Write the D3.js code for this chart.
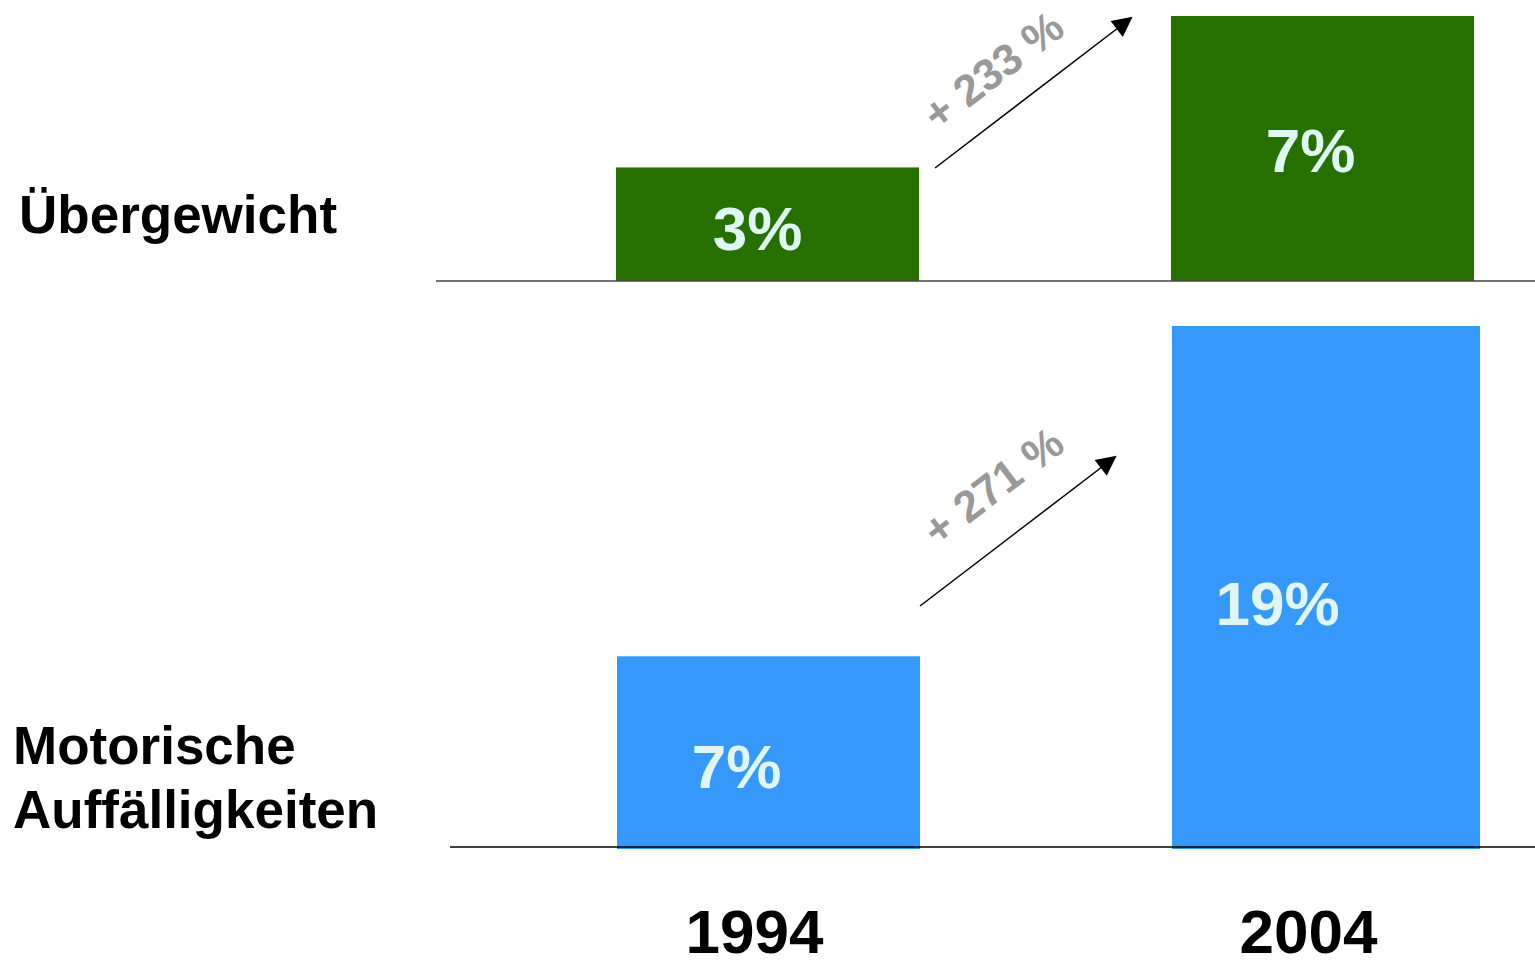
<!DOCTYPE html>
<html><head><meta charset="utf-8">
<script src="https://cdn.jsdelivr.net/npm/d3@7"></script>
<style>html,body{margin:0;padding:0;background:#fff;overflow:hidden}</style>
</head><body>
<svg id="chart" width="1535" height="960"></svg>
<script>
// ---- data ----
const years = ["1994", "2004"];
const categories = ["Übergewicht", "Motorische Auffälligkeiten"];
const overweight = [3, 7];
const motor = [7, 19];
const changeLabels = ["+ 233 %", "+ 271 %"];

// ---- layout ----
const svg = d3.select("#chart");
const font = "Liberation Sans, Arial, Helvetica, sans-serif";

const panels = [
  {values: overweight, color: "#267000", base: 281, top: 16, lineX0: 436, lineColor: "#444",
   barW: [303, 303], barDx: [0, 0], labelDx: [-10, -12], labelDy: [4, 2], yMaxVal: 7,
   arrow: [[935, 168], [1131, 18]], arrowLabel: [993, 70]},
  {values: motor, color: "#3798fb", base: 849, top: 326, lineX0: 450, lineColor: "#000",
   barW: [303, 308], barDx: [1, 3.5], labelDx: [-31, -45], labelDy: [14, 16], yMaxVal: 19,
   arrow: [[920, 606], [1115, 457]], arrowLabel: [993, 486]}
];

const x = d3.scalePoint().domain(years).range([767.5, 1322.5]);

svg.append("defs").append("marker")
  .attr("id", "ah").attr("viewBox", "0 0 10 10").attr("refX", 9).attr("refY", 5)
  .attr("markerWidth", 24).attr("markerHeight", 20).attr("markerUnits", "userSpaceOnUse")
  .attr("orient", "auto")
  .append("path").attr("d", "M0,0 L10,5 L0,10 Z").attr("fill", "#000");

panels.forEach((p, pi) => {
  const y = d3.scaleLinear().domain([0, p.yMaxVal]).range([p.base, p.top]);
  const g = svg.append("g");
  g.selectAll("rect").data(p.values).join("rect")
    .attr("x", (d, i) => x(years[i]) + p.barDx[i] - p.barW[i] / 2)
    .attr("width", (d, i) => p.barW[i])
    .attr("y", d => y(d))
    .attr("height", d => y(0) - y(d))
    .attr("fill", p.color);
  g.selectAll("text.val").data(p.values).join("text").attr("class", "val")
    .attr("x", (d, i) => x(years[i]) + p.labelDx[i])
    .attr("y", (d, i) => (y(d) + y(0)) / 2 + p.labelDy[i])
    .attr("text-anchor", "middle").attr("dominant-baseline", "central")
    .attr("font-family", font).attr("font-weight", "bold").attr("font-size", 62)
    .attr("fill", "#e0f6f2")
    .text(d => d + "%");
  // baseline
  const by = pi === 0 ? p.base : p.base - 2;
  g.append("line").attr("x1", p.lineX0).attr("x2", 1535)
    .attr("y1", by).attr("y2", by)
    .attr("stroke", p.lineColor).attr("stroke-width", 1.5);
  // arrow
  g.append("line")
    .attr("x1", p.arrow[0][0]).attr("y1", p.arrow[0][1])
    .attr("x2", p.arrow[1][0]).attr("y2", p.arrow[1][1])
    .attr("stroke", "#000").attr("stroke-width", 1.5).attr("marker-end", "url(#ah)");
  const ang = Math.atan2(p.arrow[1][1] - p.arrow[0][1], p.arrow[1][0] - p.arrow[0][0]) * 180 / Math.PI;
  g.append("text")
    .attr("transform", `translate(${p.arrowLabel[0]},${p.arrowLabel[1]}) rotate(${ang})`)
    .attr("text-anchor", "middle").attr("dominant-baseline", "central")
    .attr("font-family", font).attr("font-weight", "bold").attr("font-size", 44)
    .attr("fill", "#999").text(changeLabels[pi]);
});

// category labels
const catT = svg.append("g").attr("font-family", font).attr("font-weight", "bold")
  .attr("font-size", 53).attr("fill", "#000");
catT.append("text").attr("x", 19).attr("y", 233).text(categories[0]);
const words = categories[1].split(" ");
catT.append("text").attr("x", 13).attr("y", 764).text(words[0]);
catT.append("text").attr("x", 13).attr("y", 828).text(words[1]);

// year labels
svg.append("g").selectAll("text").data(years).join("text")
  .attr("x", (d, i) => x(d) + (i === 0 ? -13 : -14))
  .attr("y", 953)
  .attr("text-anchor", "middle")
  .attr("font-family", font).attr("font-weight", "bold").attr("font-size", 62)
  .attr("fill", "#000").text(d => d);
</script>
</body></html>
